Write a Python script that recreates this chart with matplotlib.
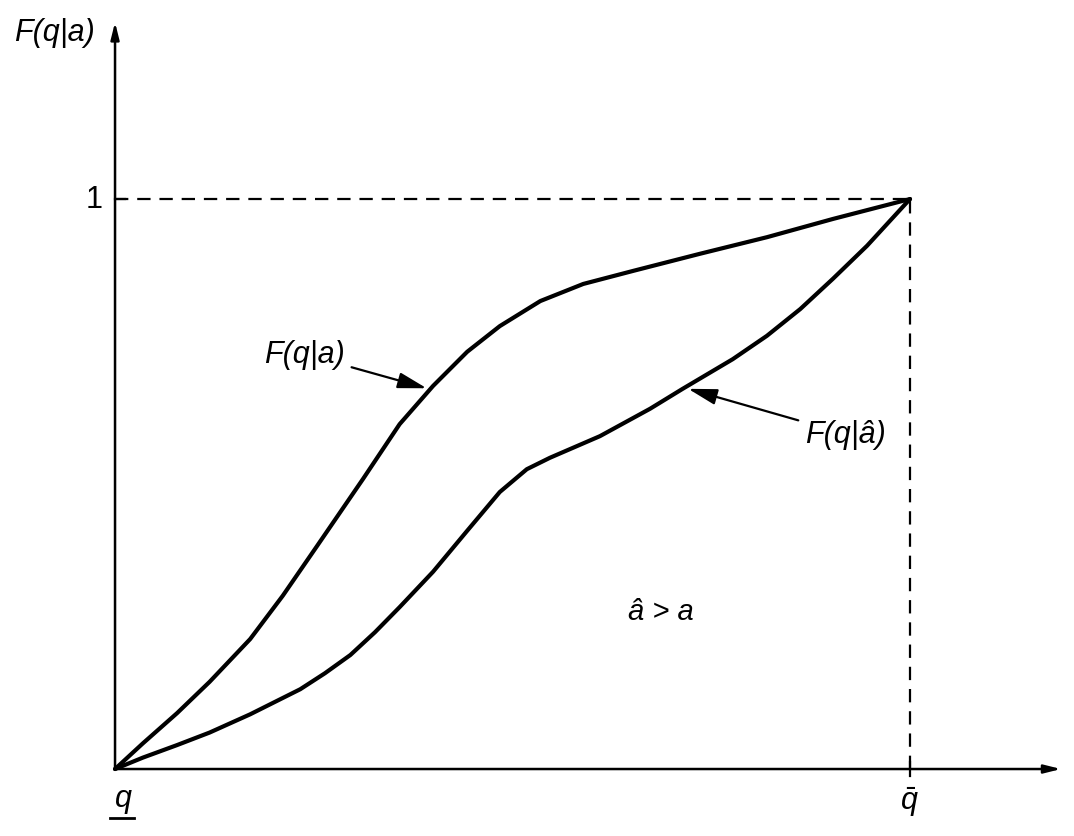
import matplotlib.pyplot as plt
import numpy as np

plt.rcParams['font.family'] = ['Liberation Sans', 'DejaVu Sans']
plt.rcParams['mathtext.fontset'] = 'custom'
plt.rcParams['mathtext.rm'] = 'Liberation Sans'
plt.rcParams['mathtext.it'] = 'Liberation Sans:italic'

# curve F(q|a) (upper) and F(q|â) (lower), q scaled to [0, 1]
q_a = [0, 0.035, 0.078, 0.119, 0.170, 0.211, 0.254, 0.312, 0.358, 0.400,
       0.443, 0.484, 0.535, 0.589, 0.652, 0.736, 0.820, 0.903, 1.0]
f_a = [0, 0.045, 0.098, 0.153, 0.228, 0.304, 0.391, 0.509, 0.605, 0.672,
       0.732, 0.777, 0.821, 0.851, 0.874, 0.904, 0.933, 0.965, 1.0]

q_ahat = [0, 0.035, 0.078, 0.119, 0.170, 0.233, 0.264, 0.296, 0.327, 0.358, 0.400,
          0.443, 0.484, 0.518, 0.547, 0.610, 0.673, 0.714, 0.777, 0.820, 0.862,
          0.903, 0.946, 1.0]
f_ahat = [0, 0.020, 0.042, 0.064, 0.096, 0.140, 0.168, 0.200, 0.240, 0.284, 0.346,
          0.418, 0.486, 0.526, 0.546, 0.584, 0.632, 0.667, 0.719, 0.760, 0.807,
          0.860, 0.918, 1.0]

fig = plt.figure(figsize=(10.74, 8.37), dpi=100)
ax = fig.add_axes([0, 0, 1, 1])
ax.set_xlim(-0.1447, 1.2063)
ax.set_ylim(-0.1175, 1.3509)
ax.axis('off')

# axes with arrows
arrow = dict(arrowstyle='-|>,head_length=1.0,head_width=0.25', color='black', lw=1.8,
             shrinkA=0, shrinkB=0)
ax.annotate('', xy=(1.19, 0), xytext=(0, 0), arrowprops=arrow)
ax.annotate('', xy=(0, 1.31), xytext=(0, 0), arrowprops=arrow)

# dashed guide lines
ax.plot([0, 1], [1, 1], color='black', lw=1.6, dashes=(6, 4))
ax.plot([1, 1], [0, 1], color='black', lw=1.6, dashes=(6, 4))
ax.plot([0, 0.012], [1, 1], color='black', lw=1.6)
ax.plot([1, 1], [-0.012, 0.012], color='black', lw=1.6)

ax.plot(q_a, f_a, color='black', lw=3.0, solid_capstyle='round', solid_joinstyle='round')
ax.plot(q_ahat, f_ahat, color='black', lw=3.0, solid_capstyle='round', solid_joinstyle='round')

fs = 22
ax.text(-0.127, 1.293, 'F(q|a)', fontsize=fs, style='italic', ha='left', va='center')
ax.text(-0.016, 1.0, '1', fontsize=fs, ha='right', va='center')
ax.text(0.010, -0.050, 'q', fontsize=fs, style='italic', ha='center', va='center')
ax.plot([-0.006, 0.024], [-0.086, -0.086], color='black', lw=2.0)
ax.text(0.999, -0.056, r'$\bar{q}$', fontsize=fs, ha='center', va='center')
ax.text(0.686, 0.277, 'â > a', fontsize=fs - 1, style='italic', ha='center', va='center')

lab_arrow = dict(arrowstyle='-|>,head_length=0.8,head_width=0.22', color='black', lw=1.6,
                 shrinkA=3, shrinkB=0)
ax.annotate('F(q|a)', xy=(0.392, 0.668), xytext=(0.289, 0.728), fontsize=fs,
            style='italic', ha='right', va='center', arrowprops=lab_arrow)
ax.annotate('F(q|â)', xy=(0.721, 0.667), xytext=(0.868, 0.588), fontsize=fs,
            style='italic', ha='left', va='center', arrowprops=lab_arrow)

fig.savefig('out.png', dpi=100)
